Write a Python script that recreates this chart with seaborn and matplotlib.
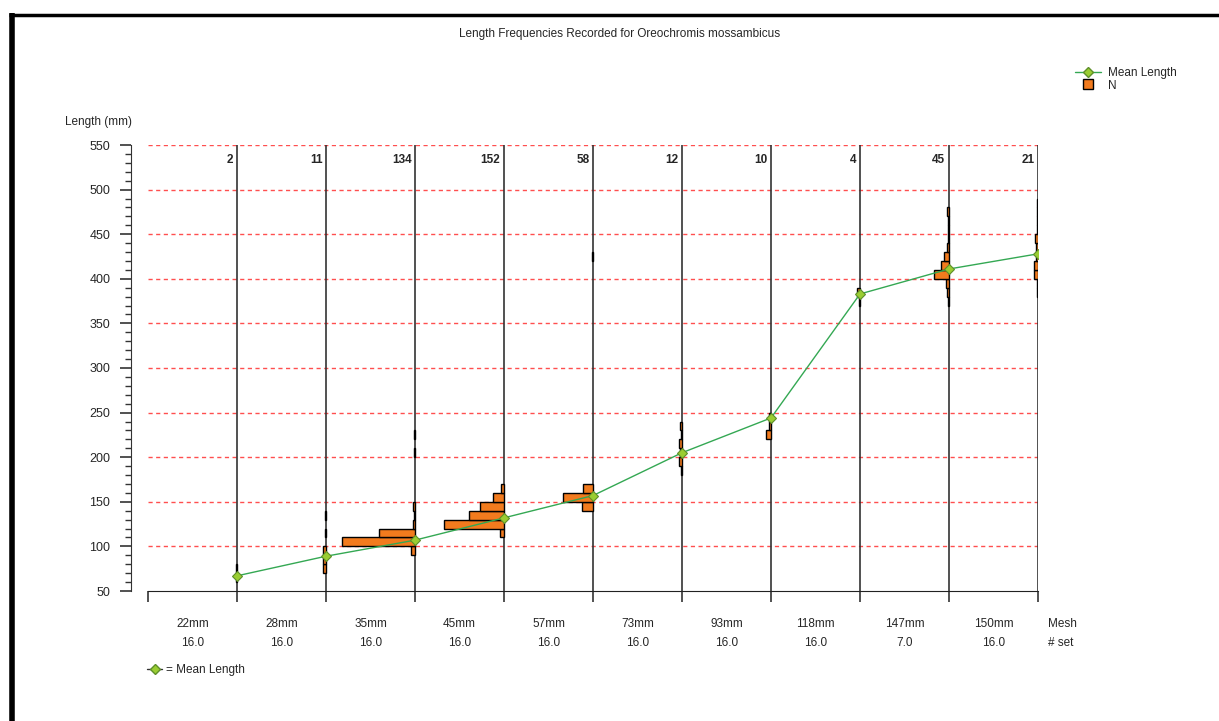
import numpy as np
import seaborn as sns
import matplotlib.pyplot as plt
from matplotlib.lines import Line2D

# Mesh sizes, sets and counts
mesh = ["22mm", "28mm", "35mm", "45mm", "57mm", "73mm", "93mm", "118mm", "147mm", "150mm"]
sets = ["16.0", "16.0", "16.0", "16.0", "16.0", "16.0", "16.0", "16.0", "7.0", "16.0"]
n_fish = [2, 11, 134, 152, 58, 12, 10, 4, 45, 21]
mean_length = [67, 89, 107, 132, 157, 205, 244, 383, 411, 428]

# Length classes (10 mm, lower bound) and number of fish per mesh
hist_lengths = [
    [60, 70],
    [70, 80, 90, 110, 130],
    [90, 100, 110, 120, 130, 140, 200, 220],
    [110, 120, 130, 140, 150, 160],
    [140, 150, 160, 420],
    [180, 190, 200, 210, 220, 230],
    [220, 230, 240],
    [370, 380],
    [370, 380, 390, 400, 410, 420, 430, 440, 450, 460, 470],
    [380, 390, 400, 410, 420, 430, 440, 450, 460, 470, 480],
]
hist_counts = [
    [1, 1],
    [3, 3, 3, 1, 1],
    [4, 82, 41, 2, 1, 2, 1, 1],
    [4, 67, 39, 27, 12, 3],
    [12, 34, 11, 1],
    [1, 3, 2, 3, 1, 2],
    [6, 2, 2],
    [1, 3],
    [1, 2, 3, 17, 9, 6, 2, 1, 1, 1, 2],
    [1, 1, 4, 4, 2, 2, 3, 1, 1, 1, 1],
]

orange = "#f27b1e"
green = "#34a853"
marker_face = "#9acd32"
scale = 0.01  # one fish = 1% of a column

sns.set_style("white")
plt.rcParams["font.family"] = ["Liberation Sans", "DejaVu Sans"]
plt.rcParams["font.size"] = 8.5

fig = plt.figure(figsize=(12.19, 7.21), dpi=100)
ax = fig.add_axes([148 / 1219, 130 / 721, 890 / 1219, 446 / 721])

# red dashed horizontal grid
for y in range(100, 551, 50):
    ax.axhline(y, color="#ff3030", lw=1, ls=(0, (3, 2.5)), alpha=0.85, zorder=0)

# column separators
ax.vlines(np.arange(1, 11), 50, 550, color="#333333", lw=1.2, zorder=1)

# length frequency bars, drawn leftwards from each separator
for i, (lens, cnts) in enumerate(zip(hist_lengths, hist_counts)):
    lens = np.array(lens)
    w = np.array(cnts) * scale
    ax.barh(lens + 5, w, left=(i + 1) - w, height=10, color=orange,
            edgecolor="black", linewidth=1, zorder=2)

# mean length line
sns.lineplot(x=np.arange(1, 11), y=mean_length, ax=ax, color=green, lw=1,
             marker="D", markersize=5, markerfacecolor=marker_face,
             markeredgecolor="#5e8f2a", markeredgewidth=0.8, zorder=3)

# counts on top
for i, n in enumerate(n_fish):
    ax.text(i + 1 - 0.04, 533, str(n), ha="right", va="center",
            fontweight="bold", fontsize=8.5)

ax.set_xlim(0, 10)
ax.set_ylim(50, 550)
ax.set_xticks(np.arange(0, 11))
ax.set_xticklabels([])
ax.set_yticks(np.arange(50, 551, 50))
ax.set_yticks(np.arange(50, 551, 10), minor=True)
ax.tick_params(axis="x", which="major", direction="out", length=8, width=1.2,
               color="#333333", bottom=True)
ax.tick_params(axis="y", which="major", direction="out", length=8, width=1.2,
               color="#333333", left=True, pad=7, labelsize=9)
ax.tick_params(axis="y", which="minor", direction="out", length=4, width=1,
               color="#333333", left=True)
for s in ["top", "right"]:
    ax.spines[s].set_visible(False)
ax.spines["left"].set_position(("outward", 12.2))
ax.spines["left"].set_color("#333333")
ax.spines["bottom"].set_color("#222222")
ax.set_xlabel("")
ax.set_ylabel("")

# mesh and set labels under columns
xt = ax.get_xaxis_transform()
for i, (m, s) in enumerate(zip(mesh, sets)):
    ax.text(i + 0.5, -0.0745, m, transform=xt, ha="center", va="center")
    ax.text(i + 0.5, -0.117, s, transform=xt, ha="center", va="center")
ax.text(10.11, -0.0745, "Mesh", transform=xt, ha="left", va="center")
ax.text(10.11, -0.117, "# set", transform=xt, ha="left", va="center")

fig.text(620 / 1219, 1 - 34 / 721, "Length Frequencies Recorded for Oreochromis mossambicus",
         ha="center", va="center", fontsize=8.5)
fig.text(65 / 1219, 1 - 122 / 721, "Length (mm)", ha="left", va="center", fontsize=8.5)

# legends
h_mean = Line2D([], [], color=green, lw=1, marker="D", markersize=5,
                markerfacecolor=marker_face, markeredgecolor="#5e8f2a")
h_n = Line2D([], [], ls="none", marker="s", markersize=7,
             markerfacecolor=orange, markeredgecolor="black")
fig.legend([h_mean, h_n], ["Mean Length", "N"], loc="upper left",
           bbox_to_anchor=(1075 / 1219, 1 - 67 / 721), frameon=False,
           fontsize=8.5, handlelength=2.2, handletextpad=0.6, labelspacing=0.05,
           borderaxespad=0, borderpad=0)
h_note = Line2D([], [], color="#333333", lw=1, marker="D", markersize=5,
                markerfacecolor=marker_face, markeredgecolor="#5e8f2a")
fig.legend([h_note], ["= Mean Length"], loc="upper left",
           bbox_to_anchor=(147 / 1219, 1 - 664 / 721), frameon=False,
           fontsize=8.5, handlelength=1.3, handletextpad=0.3,
           borderaxespad=0, borderpad=0)

# window frame
fig.add_artist(Line2D([9 / 1219, 1], [1 - 14.5 / 721, 1 - 14.5 / 721],
                      transform=fig.transFigure, color="black", lw=2.5,
                      solid_capstyle="butt"))
fig.add_artist(Line2D([12 / 1219, 12 / 1219], [0, 1 - 13 / 721],
                      transform=fig.transFigure, color="black", lw=4,
                      solid_capstyle="butt"))

fig.savefig("out.png", dpi=100)
